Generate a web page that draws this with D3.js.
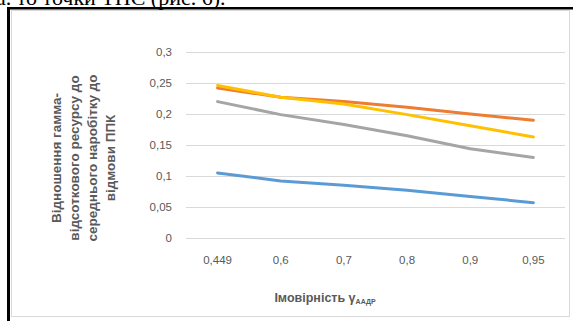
<!DOCTYPE html>
<html><head><meta charset="utf-8">
<script src="https://cdn.jsdelivr.net/npm/d3@7"></script>
<style>
html,body{margin:0;padding:0;background:#fff;overflow:hidden;}
svg{display:block;}
</style></head>
<body>
<svg id="c" width="573" height="321"></svg>
<script>
const categories = ["0,449","0,6","0,7","0,8","0,9","0,95"];
const seriesBlue   = [0.105, 0.092, 0.085, 0.077, 0.067, 0.057];
const seriesOrange = [0.242, 0.227, 0.220, 0.211, 0.200, 0.190];
const seriesGray   = [0.220, 0.199, 0.183, 0.165, 0.144, 0.130];
const seriesYellow = [0.246, 0.227, 0.216, 0.199, 0.181, 0.163];
const yTicks = [0, 0.05, 0.1, 0.15, 0.2, 0.25, 0.3];
const yTickLabels = ["0","0,05","0,1","0,15","0,2","0,25","0,3"];
const yTitleLines = ["Відношення гамма-","відсоткового ресурсу до","середнього наробітку до","відмови ППК"];
const xTitle = "Імовірність γ";
const xTitleSub = "ААДР";

const series = [
  {values: seriesBlue, color: "#5B9BD5"},
  {values: seriesOrange, color: "#ED7D31"},
  {values: seriesGray, color: "#A5A5A5"},
  {values: seriesYellow, color: "#FFC000"}
];

const svg = d3.select("#c");
const font = "'Liberation Sans', Arial, sans-serif";

// text above the frame (partly cut off, as in the reference)
svg.append("text").attr("x", -4).attr("y", 5)
  .attr("font-family", "'Liberation Serif', 'Times New Roman', serif")
  .attr("font-size", 22).attr("fill", "#000")
  .text("а. то точки ТПС (рис. 6).");

// chart area
svg.append("rect").attr("x", 11.5).attr("y", 10.5).attr("width", 558).attr("height", 306)
  .attr("fill", "#fff").attr("stroke", "#d9d9d9").attr("stroke-width", 1);
// black frame (top & left)
svg.append("rect").attr("x", 7).attr("y", 7).attr("width", 566).attr("height", 2.5).attr("fill", "#000");
svg.append("rect").attr("x", 7).attr("y", 7).attr("width", 3).attr("height", 314).attr("fill", "#000");

const x = d3.scaleBand().domain(categories).range([186, 565]);
const y = d3.scaleLinear().domain([0, 0.3]).range([238, 52]);

// gridlines + y labels
const yAxis = d3.axisLeft(y).tickValues(yTicks).tickSize(-(565 - 186))
  .tickFormat((d, i) => yTickLabels[i]).tickPadding(14);
const gy = svg.append("g").attr("transform", "translate(186,0)").call(yAxis);
gy.select(".domain").remove();
gy.selectAll(".tick line").attr("stroke", "#d9d9d9").attr("stroke-width", 1);
gy.selectAll(".tick text").attr("font-family", font).attr("font-size", 11.5)
  .attr("fill", "#595959");

const xAxis = d3.axisBottom(x).tickSize(0).tickPadding(18);
const gx = svg.append("g").attr("transform", "translate(0,238)").call(xAxis);
gx.select(".domain").remove();
gx.selectAll(".tick text").attr("font-family", font).attr("font-size", 11.5)
  .attr("fill", "#595959");

// lines
const line = d3.line()
  .x((d, i) => x(categories[i]) + x.bandwidth() / 2)
  .y(d => y(d));
series.forEach(s => {
  svg.append("path").datum(s.values).attr("d", line)
    .attr("fill", "none").attr("stroke", s.color).attr("stroke-width", 3)
    .attr("stroke-linecap", "round").attr("stroke-linejoin", "round");
});

// x title
const xt = svg.append("text").attr("x", 325).attr("y", 302)
  .attr("text-anchor", "middle").attr("font-family", font).attr("font-size", 12.5)
  .attr("font-weight", "bold").attr("fill", "#595959");
xt.append("tspan").text(xTitle);
xt.append("tspan").attr("font-size", 7).attr("dy", 2).text(xTitleSub);

// y title
const yt = svg.append("text").attr("transform", "translate(52,158) rotate(-90)")
  .attr("text-anchor", "middle").attr("font-family", font).attr("font-size", 13.5)
  .attr("font-weight", "bold").attr("fill", "#595959");
yTitleLines.forEach((t, i) => {
  yt.append("tspan").attr("x", 0).attr("y", i * 18 + 9).text(t);
});
</script>
</body></html>
